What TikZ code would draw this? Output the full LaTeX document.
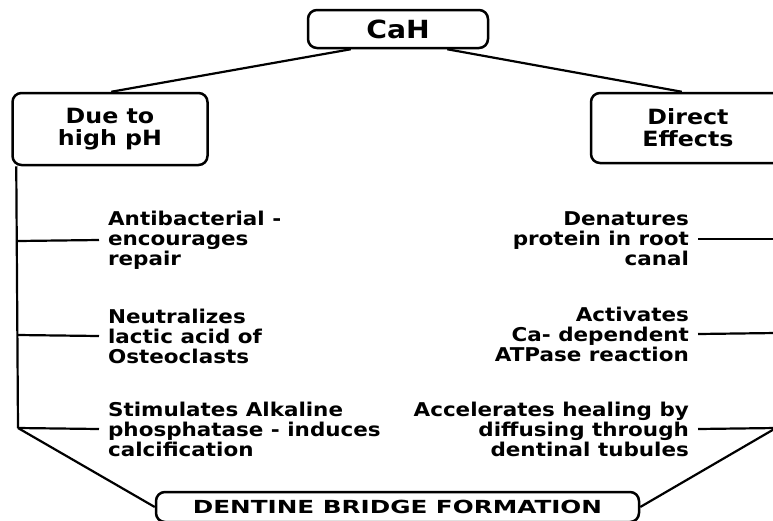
\documentclass[tikz,border=0pt]{standalone}
\usepackage{fontspec}
\newfontfamily\dvb[FakeStretch=1.13]{DejaVu Sans}
\newfontfamily\dvbwide[FakeStretch=1.37]{DejaVu Sans}
\usetikzlibrary{positioning}
\begin{document}
\begin{tikzpicture}[x=1pt,y=-1pt,line width=2.2pt,
    box/.style={draw,rounded corners=9pt,line width=2.5pt,align=center,inner sep=0pt},
    item/.style={inner xsep=8pt,inner ysep=0pt,font=\dvb\bfseries\fontsize{19}{20}\selectfont}]{
    \useasboundingbox (0,0) rectangle (773,520);
    % top and the two kinds of effect
    \node [box, minimum width=180pt, minimum height=38pt, font=\dvb\bfseries\fontsize{25}{26}\selectfont] (cah) at (398,29) {CaH};
    \node [box, minimum width=195pt, minimum height=72pt, font=\dvb\bfseries\fontsize{21}{22}\selectfont] (due) at (110,129) {Due to\\high pH};
    \node [box, minimum width=194pt, minimum height=70pt, font=\dvb\bfseries\fontsize{21}{22}\selectfont] (direct) at (688,128) {Direct\\Effects};
    \node [box, minimum width=483pt, minimum height=30pt, font=\dvbwide\bfseries\fontsize{18}{19}\selectfont] (bridge) at (397.5,507) {DENTINE BRIDGE FORMATION};
    \path ([xshift=44pt]cah.south west) edge ([xshift=100pt]due.north west);
    \path ([xshift=-42pt]cah.south east) edge ([xshift=92pt]direct.north west);
    % left branch
    \node [item, anchor=west, align=left] (anti) at (99,240) {Antibacterial -\\encourages\\repair};
    \node [item, anchor=west, align=left] (neut) at (99,336) {Neutralizes\\lactic acid of\\Osteoclasts};
    \node [item, anchor=west, align=left] (stim) at (99,429) {Stimulates Alkaline\\phosphatase - induces\\calcification};
    \coordinate (l1) at (18,241);
    \coordinate (l2) at (18,335);
    \coordinate (l3) at (18,428);
    \draw ([xshift=5pt]due.south west) -- (l3);
    \path (l1) edge (anti.west);
    \path (l2) edge (neut.west);
    \path (l3) edge (stim.west);
    \path (l3) edge (bridge.west);
    % right branch
    \node [item, anchor=east, align=right] (denat) at (698,239) {Denatures\\protein in root\\canal};
    \node [item, anchor=east, align=right] (activ) at (698,334) {Activates\\Ca- dependent\\ATPase reaction};
    \node [item, anchor=east, align=right] (accel) at (698,429) {Accelerates healing by\\diffusing through\\dentinal tubules};
    \coordinate (r1) at (776,239);
    \coordinate (r2) at (776,333);
    \coordinate (r3) at (776,428);
    \draw ([xshift=-9pt]direct.south east) -- (r3);
    \path (denat.east) edge (r1);
    \path (activ.east) edge (r2);
    \path (accel.east) edge (r3);
    \path (r3) edge (bridge.east);
    }
\end{tikzpicture}
\end{document}
